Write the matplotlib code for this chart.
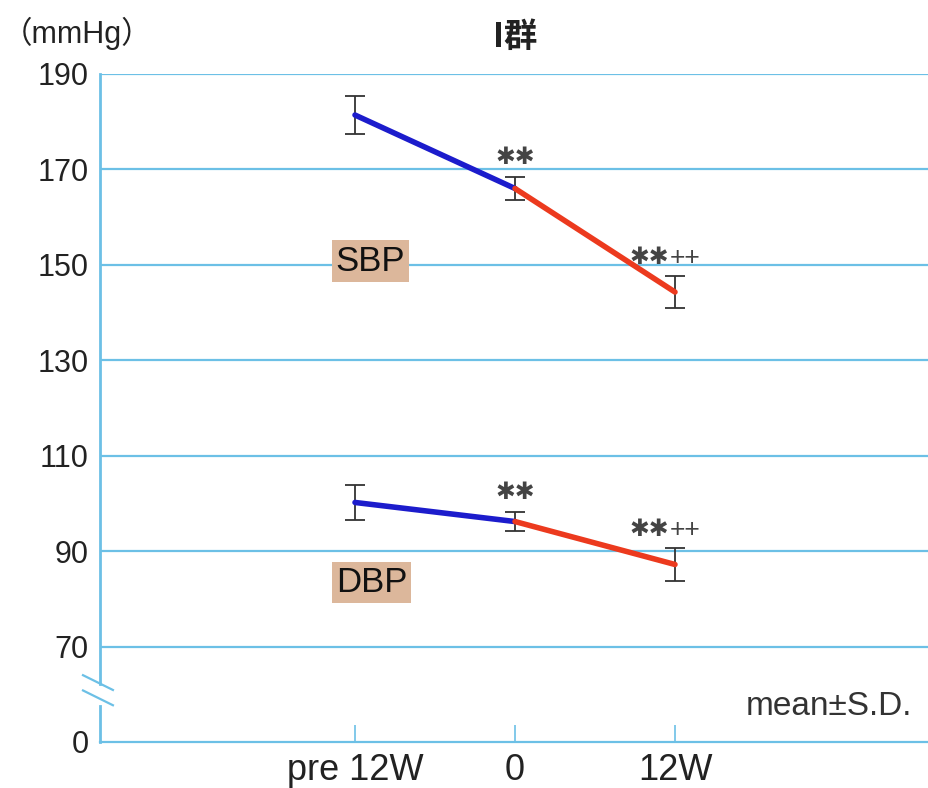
import matplotlib
matplotlib.use('Agg')
import matplotlib.pyplot as plt

plt.rcParams['font.family'] = ['Liberation Sans', 'Noto Sans CJK JP', 'DejaVu Sans']

# data
time_labels = ['pre 12W', '0', '12W']
sbp_mean = [181.4, 166.0, 144.3]
sbp_sd = [4.0, 2.4, 3.4]
dbp_mean = [100.2, 96.2, 87.2]
dbp_sd = [3.7, 2.0, 3.5]
ytick_vals = [50, 70, 90, 110, 130, 150, 170, 190]
ytick_labels = ['0', '70', '90', '110', '130', '150', '170', '190']

grid_c = '#6cc0e6'
blue = '#1c1ccc'
red = '#ec3a1e'
xs = [0, 1, 2]

fig = plt.figure(figsize=(9.29, 7.88), dpi=100)
ax = fig.add_axes([0.1076, 0.0584, 0.8924, 0.8477])
ax.set_xlim(-1.594, 3.5875)
ax.set_ylim(50, 190)

for y in ytick_vals[1:]:
    ax.axhline(y, color=grid_c, lw=1.6, zorder=1)

for s in ['top', 'right', 'left']:
    ax.spines[s].set_visible(False)
ax.spines['bottom'].set_color(grid_c)
ax.spines['bottom'].set_linewidth(1.6)
# left spine with a break
ax.plot([-1.594, -1.594], [62.2, 190], color=grid_c, lw=2.0, clip_on=False, zorder=2)
ax.plot([-1.594, -1.594], [50, 57.6], color=grid_c, lw=2.0, clip_on=False, zorder=2)
for y0 in [64.0, 60.8]:
    ax.plot([-1.700, -1.513], [y0, y0 - 3.1], color=grid_c, lw=1.6, clip_on=False, zorder=3)

ax.set_yticks(ytick_vals)
ax.set_yticklabels(ytick_labels)
ax.set_xticks(xs)
ax.set_xticklabels(time_labels)
ax.tick_params(axis='y', length=0, pad=8, labelsize=22, labelcolor='#222222')
ax.tick_params(axis='x', direction='in', length=12, width=1.2, color=grid_c,
               pad=8, labelsize=26, labelcolor='#222222')

star_font = ['DejaVu Sans']
for mean, sd in [(sbp_mean, sbp_sd), (dbp_mean, dbp_sd)]:
    ax.plot(xs[:2], mean[:2], color=blue, lw=4, solid_capstyle='round', zorder=4)
    ax.plot(xs[1:], mean[1:], color=red, lw=4, solid_capstyle='round', zorder=4)
    ax.errorbar(xs, mean, yerr=sd, fmt='none', ecolor='#333333', elinewidth=1.3,
                capsize=7.5, capthick=1.3, zorder=3)
    ax.text(xs[1], mean[1] + sd[1] + 1.6, '✱✱', ha='center', va='bottom',
            fontsize=17, color='#444444', family=star_font, zorder=5)
    ax.text(xs[2] - 0.16, mean[2] + sd[2] + 1.4, '✱✱', ha='center', va='bottom',
            fontsize=17, color='#444444', family=star_font, zorder=5)
    ax.text(xs[2] - 0.03, mean[2] + sd[2] + 1.2, '++', ha='left', va='bottom',
            fontsize=19, color='#444444', zorder=5)

box = dict(boxstyle='square,pad=0.12', fc='#dcb79b', ec='none')
ax.text(-0.12, 150.8, 'SBP', ha='left', va='center', fontsize=25, color='#111111', bbox=box, zorder=5)
ax.text(-0.12, 83.4, 'DBP', ha='left', va='center', fontsize=25, color='#111111', bbox=box, zorder=5)

ax.text(3.48, 57.5, 'mean±S.D.', ha='right', va='center', fontsize=24, color='#333333')

fig.text(0.002, 0.957, '（mmHg）', ha='left', va='center', fontsize=22, color='#222222')
fig.text(0.555, 0.952, 'I群', ha='center', va='center', fontsize=24, color='#222222',
         family=['Noto Sans CJK JP'], weight='bold')

fig.savefig('out.png', dpi=100, facecolor='white')
